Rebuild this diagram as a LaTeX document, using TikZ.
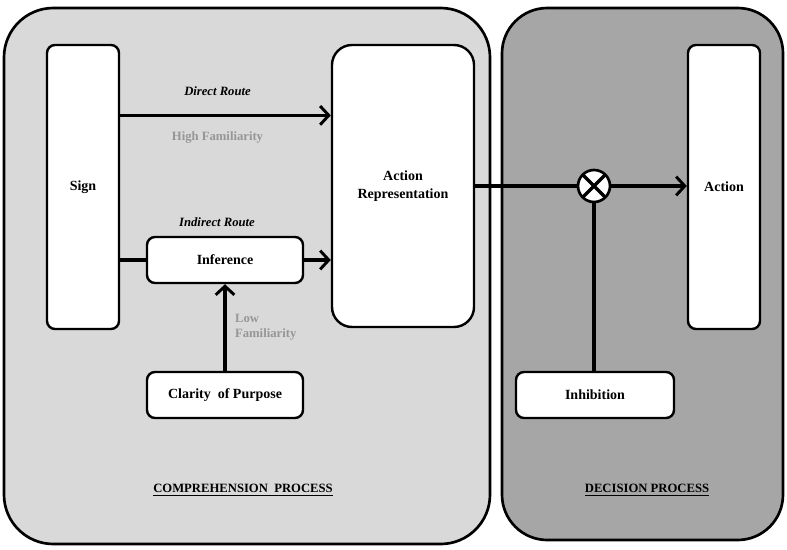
\documentclass[tikz,border=0pt]{standalone}
\usepackage{fontspec}
\setmainfont{Liberation Serif}
\usetikzlibrary{
    arrows.meta,
    positioning,
    calc
}
\definecolor{compGray}{RGB}{217,217,217}
\definecolor{decGray}{RGB}{166,166,166}
\definecolor{famGray}{RGB}{150,150,150}
\tikzset{
  panel/.style  = {draw, line width=2pt, rounded corners=37pt},
  block/.style  = {draw, fill=white, line width=1.8pt, rounded corners=6pt,
                   align=center, font=\fontsize{10.5}{14}\selectfont\bfseries},
  tall/.style   = {block, minimum width=54pt, minimum height=213pt},
  wide/.style   = {block, minimum width=117pt, minimum height=34.5pt},
  route/.style  = {font=\fontsize{9.5}{11}\selectfont\bfseries\itshape},
  fam/.style    = {font=\fontsize{9.5}{11}\selectfont\bfseries, text=famGray,
                   align=left},
  proc/.style   = {font=\fontsize{9.5}{11}\selectfont\bfseries},
  arr/.style    = {-{Straight Barb[length=6.5pt,width=14pt,line width=2.2pt]},
                   line width=2.5pt},
  conn/.style   = {line width=2.5pt}
}

\begin{document}
\begin{tikzpicture}[x=0.75pt, y=-0.75pt]
  \useasboundingbox (0,0) rectangle (787,549);
  % the two process panels
  \draw[panel, fill=compGray] (4,8) rectangle (490,544);
  \draw[panel, fill=decGray, rounded corners=34pt] (502,8) rectangle (783,540);

  \node[tall] (sign) at (83,187) {Sign};
  \node[block, minimum width=106.5pt, minimum height=211.5pt,
        rounded corners=15pt] (rep) at (403,186) {Action\\Representation};
  \node[wide] (inf) at (225,260) {Inference};
  \node[wide] (clar) at (225,395) {Clarity\ \ of Purpose};
  \node[tall] (act) at (724,187) {Action};
  \node[wide, minimum width=118.5pt] (inh) at (595,395) {Inhibition};
  \node[circle, draw, fill=white, line width=2pt, minimum size=24pt,
        inner sep=0pt,
        path picture={
          \draw[line width=2.6pt]
            (path picture bounding box.north west) -- (path picture bounding box.south east)
            (path picture bounding box.north east) -- (path picture bounding box.south west);
        }] (mult) at (594,186) {};

  % direct route
  \coordinate (dir) at ($(sign.north east)!0.25!(sign.south east)$);
  \draw[arr] (dir) -- (dir -| rep.west)
    node[midway, above=10pt, xshift=-6pt, route] {Direct Route}
    node[midway, below=8pt, xshift=-6pt, fam] {High Familiarity};

  % indirect route
  \draw[conn] (inf.west -| sign.east) -- (inf.west);
  \draw[arr] (inf.east) -- (inf.east -| rep.west);
  \node[route, above=3pt of inf.north, xshift=-6pt] (ind) {Indirect Route};
  \draw[arr] (clar.north) -- (inf.south)
    node[midway, right=3pt, fam] {Low\\Familiarity};

  % decision
  \draw[conn] (rep.east) -- (mult.west);
  \draw[arr] (mult.east) -- (mult.east -| act.west);
  \draw[conn] (inh.north -| mult.south) -- (mult.south);

  \node[proc] (cp) at (243,490) {\underline{COMPREHENSION\ \ PROCESS}};
  \node[proc] (dp) at (647,490) {\underline{DECISION PROCESS}};
\end{tikzpicture}
\end{document}
